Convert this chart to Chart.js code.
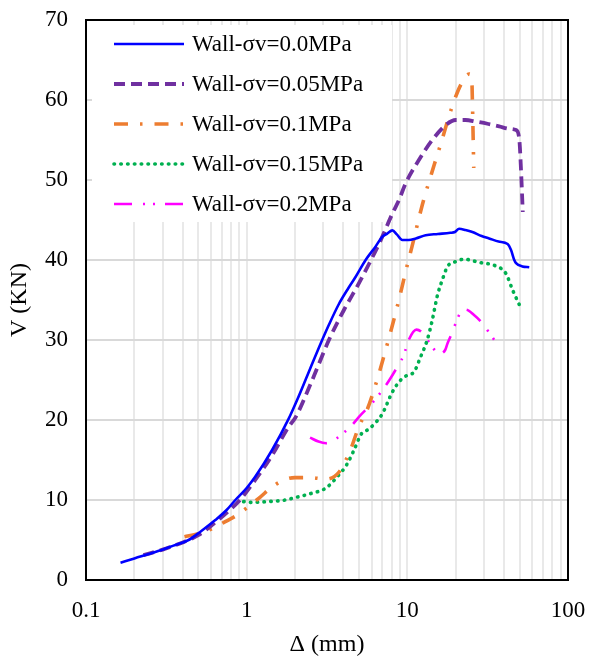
<!DOCTYPE html>
<html>
<head>
<meta charset="utf-8">
<script src="https://cdn.jsdelivr.net/npm/chart.js@4.4.1/dist/chart.umd.min.js"></script>
<style>
  html, body { margin: 0; padding: 0; background: #fff; }
</style>
</head>
<body>
<canvas id="wallChart" width="589" height="659"></canvas>
<script>
// series names, as in the legend
const seriesNames = ['Wall-σv=0.0MPa', 'Wall-σv=0.05MPa', 'Wall-σv=0.1MPa', 'Wall-σv=0.15MPa', 'Wall-σv=0.2MPa'];

// Δ (mm) / V (KN)
const sv000X = [0.164, 0.2, 0.27, 0.35, 0.435, 0.52, 0.638, 0.75, 0.85, 1.0, 1.13, 1.44, 1.83, 2.06, 2.4, 2.81, 3.25, 3.75, 4.3, 4.77, 5.5, 6.35, 6.98, 7.5, 8.07, 8.6, 9.31, 10.2, 11.3, 13.0, 15.5, 18.5, 19.8, 21.0, 23.0, 25.4, 29.0, 32.3, 37.0, 42.1, 44.2, 46.3, 47.5, 52.0, 57.4];
const sv000Y = [2.16, 2.7, 3.5, 4.3, 5.0, 6.1, 7.5, 8.75, 10.0, 11.5, 12.9, 16.25, 20.2, 22.5, 25.7, 29.0, 31.9, 34.5, 36.5, 37.9, 40.0, 41.7, 42.9, 43.3, 43.7, 43.2, 42.5, 42.5, 42.7, 43.1, 43.25, 43.4, 43.5, 43.9, 43.75, 43.5, 43.0, 42.7, 42.3, 42.0, 41.25, 40.0, 39.6, 39.2, 39.1];

const sv005X = [0.228, 0.3, 0.4, 0.5, 0.62, 0.75, 0.9, 1.13, 1.44, 1.83, 2.01, 2.56, 3.25, 4.03, 5.0, 5.77, 6.66, 6.98, 8.07, 8.87, 9.77, 11.8, 14.3, 17.4, 20.0, 23.0, 26.7, 32.0, 37.3, 43.0, 47.5, 49.8, 51.0, 52.3];
const sv005Y = [3.1, 3.8, 4.7, 5.6, 7.0, 8.4, 9.9, 12.5, 15.6, 19.2, 20.3, 25.0, 30.0, 33.75, 37.1, 39.5, 42.0, 42.9, 45.8, 47.5, 49.6, 52.5, 55.0, 56.9, 57.5, 57.5, 57.3, 57.0, 56.7, 56.4, 56.25, 55.0, 51.25, 46.0];

const sv010X = [0.41, 0.5, 0.61, 0.736, 0.87, 1.03, 1.22, 1.41, 1.66, 2.0, 2.5, 3.12, 3.76, 4.42, 5.0, 5.6, 6.2, 7.33, 8.66, 10.0, 10.7, 12.4, 14.7, 16.2, 18.7, 21.5, 24.3, 25.2, 25.4, 25.7, 25.9];
const sv010Y = [5.4, 5.8, 6.4, 7.3, 8.1, 9.2, 10.4, 11.5, 12.4, 12.8, 12.8, 12.6, 13.5, 16.25, 19.2, 21.2, 23.75, 28.75, 34.2, 39.4, 41.7, 46.9, 51.9, 54.6, 58.75, 61.9, 63.25, 62.5, 60.0, 55.0, 51.5];

const sv015X = [0.957, 1.08, 1.35, 1.74, 2.0, 2.5, 3.12, 3.66, 4.19, 4.66, 5.19, 5.7, 6.3, 7.0, 8.07, 9.1, 10.0, 11.0, 12.1, 13.3, 14.3, 15.4, 16.5, 17.8, 20.0, 22.6, 28.0, 35.6, 41.1, 45.2, 49.8];
const sv015Y = [9.8, 9.7, 9.8, 10.0, 10.3, 10.8, 11.5, 12.9, 14.4, 16.25, 18.3, 18.8, 19.6, 20.8, 23.5, 25.0, 25.6, 26.0, 27.9, 30.0, 32.5, 35.6, 37.5, 39.2, 39.8, 40.1, 39.7, 39.25, 38.3, 36.25, 34.4];

const sv020X = [2.48, 2.8, 3.12, 3.5, 4.54, 5.0, 5.91, 7.16, 8.07, 8.87, 9.5, 10.2, 11.4, 12.7, 13.8, 15.8, 17.2, 17.8, 18.9, 20.0, 21.5, 23.1, 26.1, 28.7, 31.6, 35.6];
const sv020Y = [17.8, 17.3, 17.1, 17.5, 19.4, 20.4, 21.9, 24.0, 25.6, 27.0, 28.1, 30.0, 31.3, 30.7, 29.6, 28.3, 28.75, 29.6, 30.8, 32.1, 33.5, 33.8, 33.1, 32.3, 31.2, 29.7];

// axis ticks
const xGridMultipliers = [1, 2, 3, 4, 5, 6, 7, 8, 9];
const xDecades = [0.1, 1, 10];
const xTickLabels = [0.1, 1, 10, 100];
const yMin = 0, yMax = 70, yStep = 10;

const toPoints = (xs, ys) => xs.map((x, i) => ({ x: x, y: ys[i] }));

let xGridValues = [];
xDecades.forEach(d => xGridMultipliers.forEach(m => xGridValues.push(d * m)));
xGridValues.push(100);

const serif = '"Liberation Serif", "Times New Roman", serif';

// legend drawn inside the plot, on a white box over the grid
const legendInPlot = {
  id: 'legendInPlot',
  beforeDatasetsDraw(chart) {
    const ctx = chart.ctx;
    const a = chart.chartArea;
    ctx.save();
    ctx.fillStyle = '#ffffff';
    ctx.fillRect(a.left + 6, a.top + 5, 300, 197);
    chart.data.datasets.forEach((ds, i) => {
      const y = a.top + 24 + i * 40;
      ctx.beginPath();
      ctx.setLineDash(ds.borderDash || []);
      ctx.lineCap = ds.borderCapStyle || 'butt';
      ctx.lineWidth = ds.borderWidth;
      ctx.strokeStyle = ds.borderColor;
      ctx.moveTo(a.left + 28, y);
      ctx.lineTo(a.left + 98, y);
      ctx.stroke();
      ctx.setLineDash([]);
      ctx.fillStyle = '#000';
      ctx.font = '23px ' + serif;
      ctx.textBaseline = 'middle';
      ctx.textAlign = 'left';
      ctx.fillText(ds.label, a.left + 106, y + 1);
    });
    ctx.restore();
  },
  afterDatasetsDraw(chart) {
    const ctx = chart.ctx;
    const a = chart.chartArea;
    ctx.save();
    ctx.strokeStyle = '#000';
    ctx.lineWidth = 2;
    ctx.strokeRect(a.left, a.top, a.right - a.left, a.bottom - a.top);
    ctx.restore();
  }
};

new Chart(document.getElementById('wallChart'), {
  type: 'line',
  data: {
    datasets: [
      { label: seriesNames[0], data: toPoints(sv000X, sv000Y), borderColor: '#0000ff', borderWidth: 2.6 },
      { label: seriesNames[1], data: toPoints(sv005X, sv005Y), borderColor: '#7030a0', borderWidth: 3.8, borderDash: [11, 6] },
      { label: seriesNames[2], data: toPoints(sv010X, sv010Y), borderColor: '#ed7d31', borderWidth: 3.6, borderDash: [14, 12, 2.5, 12] },
      { label: seriesNames[3], data: toPoints(sv015X, sv015Y), borderColor: '#00b050', borderWidth: 3.6, borderDash: [0.5, 6.3], borderCapStyle: 'round' },
      { label: seriesNames[4], data: toPoints(sv020X, sv020Y), borderColor: '#ff00ff', borderWidth: 2.6, borderDash: [18, 11, 2, 8, 2, 10] }
    ]
  },
  options: {
    responsive: false,
    animation: false,
    devicePixelRatio: 1,
    layout: { padding: { left: 0, right: 21, top: 20, bottom: 0 } },
    elements: {
      point: { radius: 0 },
      line: { cubicInterpolationMode: 'monotone', fill: false }
    },
    plugins: {
      legend: { display: false },
      tooltip: { enabled: false }
    },
    scales: {
      x: {
        type: 'logarithmic',
        min: 0.1,
        max: 100,
        afterBuildTicks: s => { s.ticks = xGridValues.map(v => ({ value: v })); },
        afterFit: s => { s.height = 79; s.paddingLeft = 0; s.paddingRight = 0; },
        border: { display: false },
        grid: { color: '#e9e9e9', lineWidth: 2, drawTicks: false },
        ticks: {
          autoSkip: false,
          maxRotation: 0,
          padding: 17,
          color: '#000',
          font: { family: serif, size: 23 },
          callback: v => (xTickLabels.some(t => Math.abs(t - v) < 1e-9) ? String(v) : '')
        },
        title: {
          display: true,
          text: 'Δ (mm)',
          color: '#000',
          font: { family: serif, size: 24 },
          padding: { top: 0, bottom: 0 }
        }
      },
      y: {
        min: yMin,
        max: yMax,
        afterFit: s => { s.width = 86; s.paddingTop = 0; s.paddingBottom = 0; },
        border: { display: false },
        grid: { color: '#d9d9d9', lineWidth: 2, drawTicks: false },
        ticks: {
          stepSize: yStep,
          padding: 18,
          color: '#000',
          font: { family: serif, size: 23 }
        },
        title: {
          display: true,
          text: 'V (KN)',
          color: '#000',
          font: { family: serif, size: 24 },
          padding: { top: 5, bottom: 0 }
        }
      }
    }
  },
  plugins: [legendInPlot]
});
</script>
</body>
</html>
